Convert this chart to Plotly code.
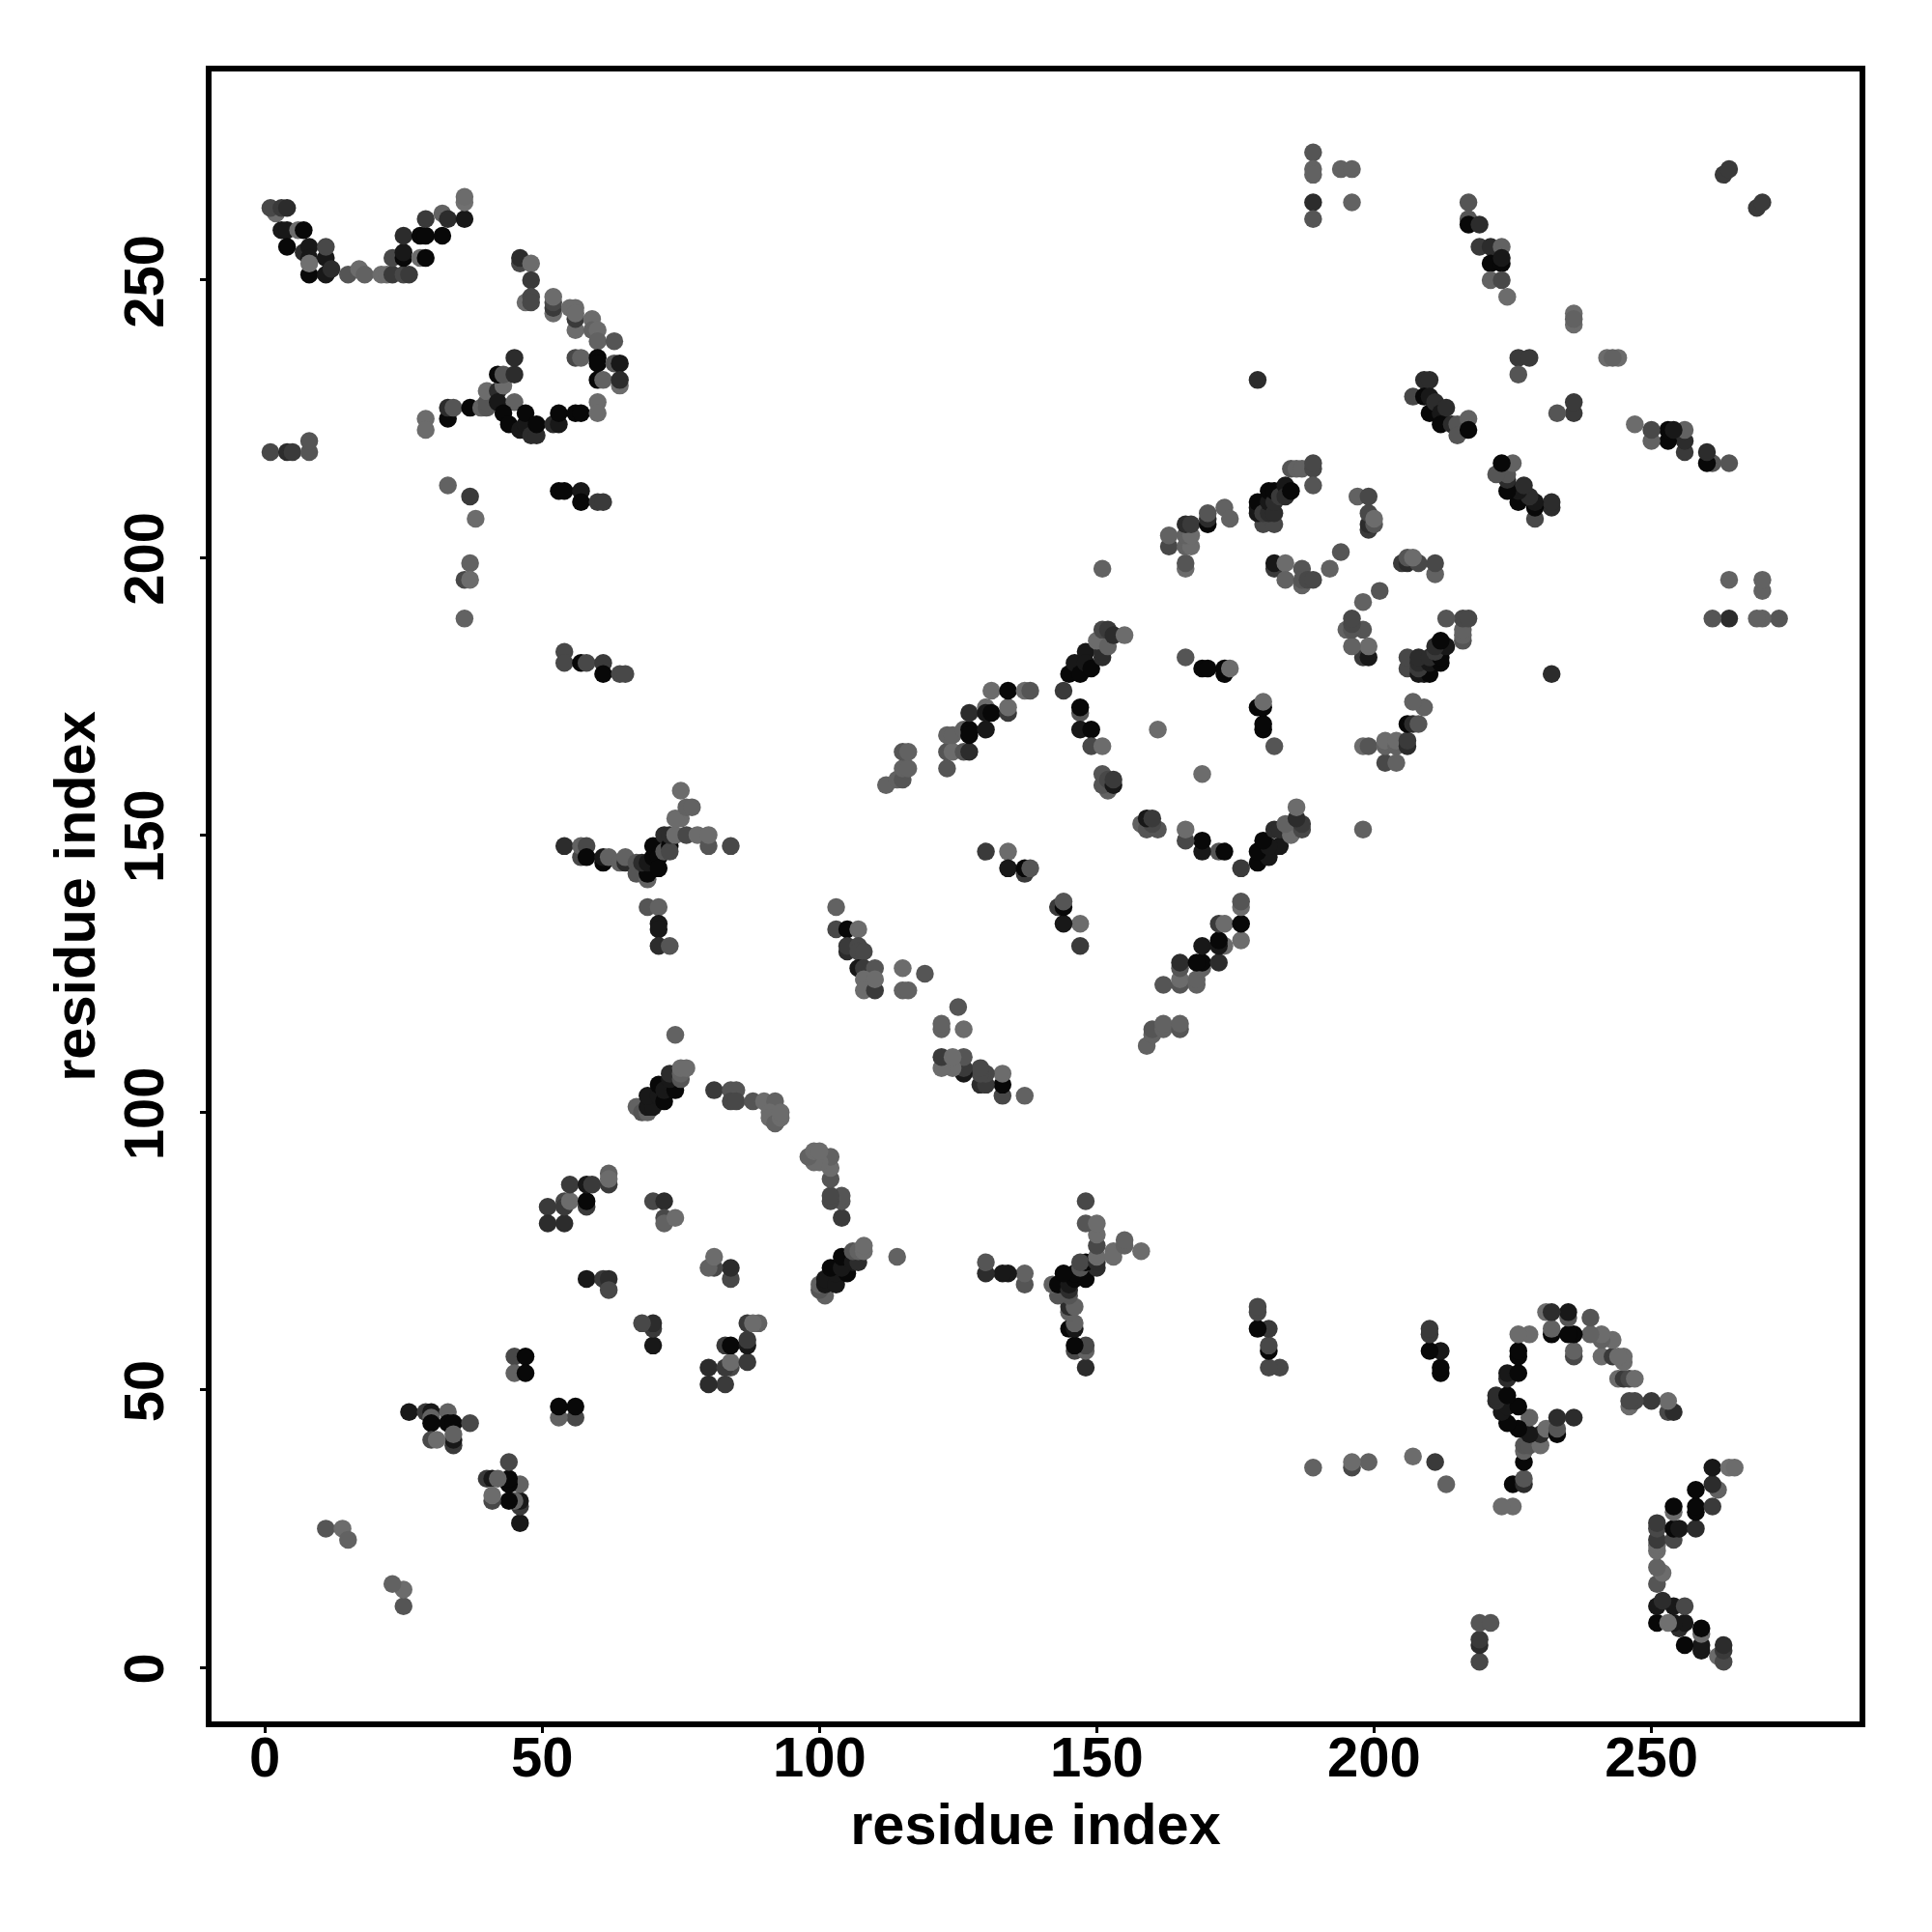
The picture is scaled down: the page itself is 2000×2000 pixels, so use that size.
import plotly.graph_objects as go

# Contacts between residues, one half of the symmetric map.
# *_i / *_j are residue indices, *_w is the contact shade level (0 darkest .. 9 lightest).
a_i = [2,1,3,4,3,4,6,7,7,4, 8,8,11,11,8,8,11,12,15,17, 18,21,22,23,25,26,23,25,25,25, 28,29,28,29,29,32,32,33,36,36, 36]
a_j = [262,263,263,263,259,259,259,259,255,256, 256,254,254,256,251,253,251,252,251,252, 251,251,251,251,251,251,254,254,255,258, 258,258,254,254,261,258,262,261,261,264, 265]
a_w = [7,4,3,2,1,1,7,0,2,0, 1,1,1,4,0,8,1,2,5,7, 6,7,7,3,4,3,4,0,1,2, 0,0,7,0,3,0,6,2,1,8, 7]

b_i = [46,46,48,48,47,48,48,52,52,52, 52,55,56,56,56,56,59,59,60,60, 63,56,57,60,60,63,64,60,61,64, 64]
b_j = [253,254,253,250,246,247,246,244,245,246, 247,245,245,241,243,244,243,241,241,239, 239,236,236,236,235,235,235,232,232,231, 232]
b_w = [4,2,7,3,7,4,4,7,3,4, 7,7,7,7,3,7,7,6,7,6, 5,4,6,0,0,5,1,0,6,7, 2]

c_i = [29,29,33,33,34,37,39,40,40,40, 42,42,43,42,43,45,45,45,43,44, 46,47,47,48,49,49,52,53,53,56, 57,60,60]
c_j = [225,223,225,227,227,227,227,227,228,230, 230,228,231,233,233,233,236,228,226,224, 223,224,226,222,222,224,224,224,226,226, 226,228,226]
c_w = [7,7,0,2,5,0,6,5,5,7, 2,1,7,0,5,2,2,6,0,0, 1,1,0,2,2,0,2,1,0,0, 0,7,7]

d_i = [1,4,5,8,8,33,37,38,37,36, 37,36,53,54,57,57,60,61,54,54, 57,58,61,61,64,65]
d_j = [219,219,219,219,221,213,211,207,199,196, 196,189,212,212,212,210,210,210,183,181, 181,181,181,179,179,179]
d_w = [4,2,3,5,5,6,3,7,6,4, 7,6,0,0,1,0,3,3,4,4, 0,4,3,0,4,4]

e_i = [54,57,57,58,58,61,61,62,64,65, 65,67,67,69,69,68,69,70,70,71, 71,72,72,73,73,73,74,76,78,80, 80,84,75,75,74,76,77,69,71,71, 71,71,73]
e_j = [148,146,148,148,146,145,146,146,145,145, 146,145,143,142,143,145,145,146,148,146, 144,147,150,148,147,150,150,150,150,148, 150,148,158,153,153,155,155,137,137,134, 133,130,130]
e_w = [2,4,6,4,0,0,1,6,6,2, 6,5,5,6,0,2,1,0,0,0, 0,5,2,0,4,2,7,4,7,5, 7,4,7,7,7,6,6,5,6,1, 1,2,5]

f_i = [103,103,105,107,105,105,107,107,108,107, 108,110,115,119,108,108,110,110,115,116]
f_j = [137,133,133,133,129,130,130,129,129,126, 126,126,126,125,124,122,122,124,122,122]
f_w = [6,4,0,7,2,3,4,4,4,1, 3,5,7,5,7,7,3,7,6,6]

g_i = [74,67,68,69,69,70,69,71,72,71, 72,74,73,73,75,75,75,76]
g_j = [114,101,100,100,101,101,103,103,102,105, 104,104,106,107,106,107,108,108]
g_w = [6,6,5,6,1,1,1,1,0,0, 1,0,1,2,5,6,7,7]

h_i = [81,84,85,84,85,88,90,92,91,91, 92,93,93]
h_j = [104,104,104,102,102,102,102,102,100,99, 98,99,100]
h_w = [3,5,5,4,4,5,7,6,7,7, 6,7,7]

k_i = [11,14,15,26,29,30,33,30,30,33, 34,37,34,34,34,30,31,45,47,45, 47,51,51,54,54,54,55,55,58,58, 58,59,62,62,62,58,61,62,62,70, 72,72,72,74]
k_j = [25,25,23,46,46,46,46,45,44,44, 44,44,40,41,42,41,41,56,56,53, 53,83,80,80,84,83,84,87,83,84, 87,87,87,89,88,70,70,70,68,84, 84,81,80,81]
k_w = [5,7,6,1,3,1,6,6,0,0, 0,4,3,1,6,4,7,4,0,6, 0,3,2,2,4,3,7,3,3,0, 1,3,3,6,7,1,3,2,4,4, 2,4,6,7]

m_i = [112,114,115,115,116,115,116,123,123,124, 123,124,126,127,126,127,127,130,127,130, 130,131,134,134,131,134,137,138,130,134, 134,137,137,138]
m_j = [159,160,160,162,162,165,165,162,165,165, 168,168,165,165,169,169,168,169,172,173, 172,172,172,173,176,176,176,176,147,147, 144,143,144,144]
m_w = [6,6,5,6,6,5,6,5,5,7, 6,6,5,2,6,0,0,1,2,7, 1,0,3,7,7,0,7,5,3,7, 1,3,0,5]

n_i = [144,145,146,147,148,148,149,151,151,150, 152,151,152,153,155,147,147,147,149,149, 151,152,151,151,152,153,153,161,166,169, 170,173,173,174]
n_j = [176,179,181,179,183,181,180,182,183,185, 184,187,187,186,186,172,173,169,169,166, 166,158,159,161,160,159,160,169,182,180, 180,179,180,180]
n_w = [3,0,1,0,1,1,0,2,2,7, 6,4,3,2,7,5,0,1,0,4, 7,6,5,5,4,1,3,7,5,0, 0,0,0,7]

p_i = [163,163,166,166,166,167,166,167,166,167, 170,170,170,173,174,151]
p_j = [202,204,198,199,202,202,204,204,206,206, 206,207,208,209,207,198]
p_w = [4,6,7,5,6,7,6,7,2,3, 0,2,5,6,6,6]

q_i = [180,182,179,179,179,180,181,181,182,181, 182,182,183,184,184,185,185,186,187,189, 189,189]
q_j = [206,206,208,209,210,208,208,210,208,212, 210,212,211,213,211,212,216,216,216,216, 217,213]
q_w = [4,4,1,1,0,3,2,1,2,0, 2,0,3,1,2,0,5,6,6,4, 4,5]

r_i = [182,182,184,184,187,187,187,188,189,192, 194,197,199,199,199,200,199,200]
r_j = [198,199,199,196,195,198,196,196,196,198, 201,211,211,205,206,206,208,207]
r_w = [3,1,7,6,6,5,5,4,4,6, 5,6,4,3,2,5,4,7]

s_i = [189,189,189,194,196,189,196,189,217,217, 217,219,219,221,223,221,223,223,221,223, 224,263,264,236,236,236,226,228,226,179, 207,209,210,209,210,210,211,212,213,212, 214,215,215,217,217]
s_j = [273,270,269,270,270,264,264,261,264,261, 260,260,256,256,256,253,253,254,250,250, 247,269,270,244,242,243,236,236,233,232, 229,232,232,229,229,226,228,226,227,224, 224,224,222,225,223]
s_w = [5,6,6,6,6,2,6,5,5,5, 0,2,3,2,6,0,0,1,6,4, 7,3,3,7,7,6,3,3,5,2, 4,2,2,0,1,0,2,1,2,0, 2,5,5,6,0]

x_ticks = [0, 50, 100, 150, 200, 250]
y_ticks = [0, 50, 100, 150, 200, 250]
axis_label = "residue index"

groups = [(a_i, a_j, a_w), (b_i, b_j, b_w), (c_i, c_j, c_w), (d_i, d_j, d_w), (e_i, e_j, e_w),
          (f_i, f_j, f_w), (g_i, g_j, g_w), (h_i, h_j, h_w), (k_i, k_j, k_w), (m_i, m_j, m_w),
          (n_i, n_j, n_w), (p_i, p_j, p_w), (q_i, q_j, q_w), (r_i, r_j, r_w), (s_i, s_j, s_w)]

res_i, res_j, shade = [], [], []
for gi, gj, gw in groups:
    assert len(gi) == len(gj) == len(gw), (gi[:3], len(gi), len(gj), len(gw))
    res_i += gi
    res_j += gj
    shade += gw

FONT = "Liberation Sans"
grays = ["#080808", "#181818", "#2c2c2c", "#3a3a3a", "#484848",
         "#555555", "#626262", "#6c6c6c", "#707070", "#747474"]
fig = go.Figure(go.Scatter(
    x=res_i + res_j,
    y=res_j + res_i,
    mode="markers",
    marker=dict(size=18.5, color=shade + shade, cmin=0, cmax=9,
                colorscale=[[k / 9, c] for k, c in enumerate(grays)],
                showscale=False, line=dict(width=0), opacity=1),
    hoverinfo="skip",
))

axis = dict(
    showgrid=False, zeroline=False, showline=True, mirror=True, linecolor="black", linewidth=5.5,
    ticks="outside", ticklen=6, tickwidth=3, tickcolor="black",
    tickfont=dict(family=FONT, size=58, color="black", weight="bold"),
    title=dict(text="<b>%s</b>" % axis_label, font=dict(family=FONT, size=59.5, color="black")),
)
fig.update_layout(
    width=2000, height=2000, autosize=False,
    margin=dict(l=218.5, r=74.5, t=73.5, b=218.0, pad=0),
    paper_bgcolor="white", plot_bgcolor="white", showlegend=False,
    xaxis=dict(axis, range=[-9.61, 287.52], tickvals=x_ticks, ticktext=[str(v) for v in x_ticks],
               ticklabelstandoff=-24),
    yaxis=dict(axis, range=[-9.75, 287.6], tickvals=y_ticks, ticktext=[str(v) for v in y_ticks],
               tickangle=-90, ticklabelstandoff=15, ticklabelshift=10),
)
fig.update_xaxes(title_standoff=19, automargin=False)
fig.update_yaxes(title_standoff=0, automargin=False)
fig.write_html("out.html", post_script="document.body.style.margin='0';",
               config={"displayModeBar": False})
